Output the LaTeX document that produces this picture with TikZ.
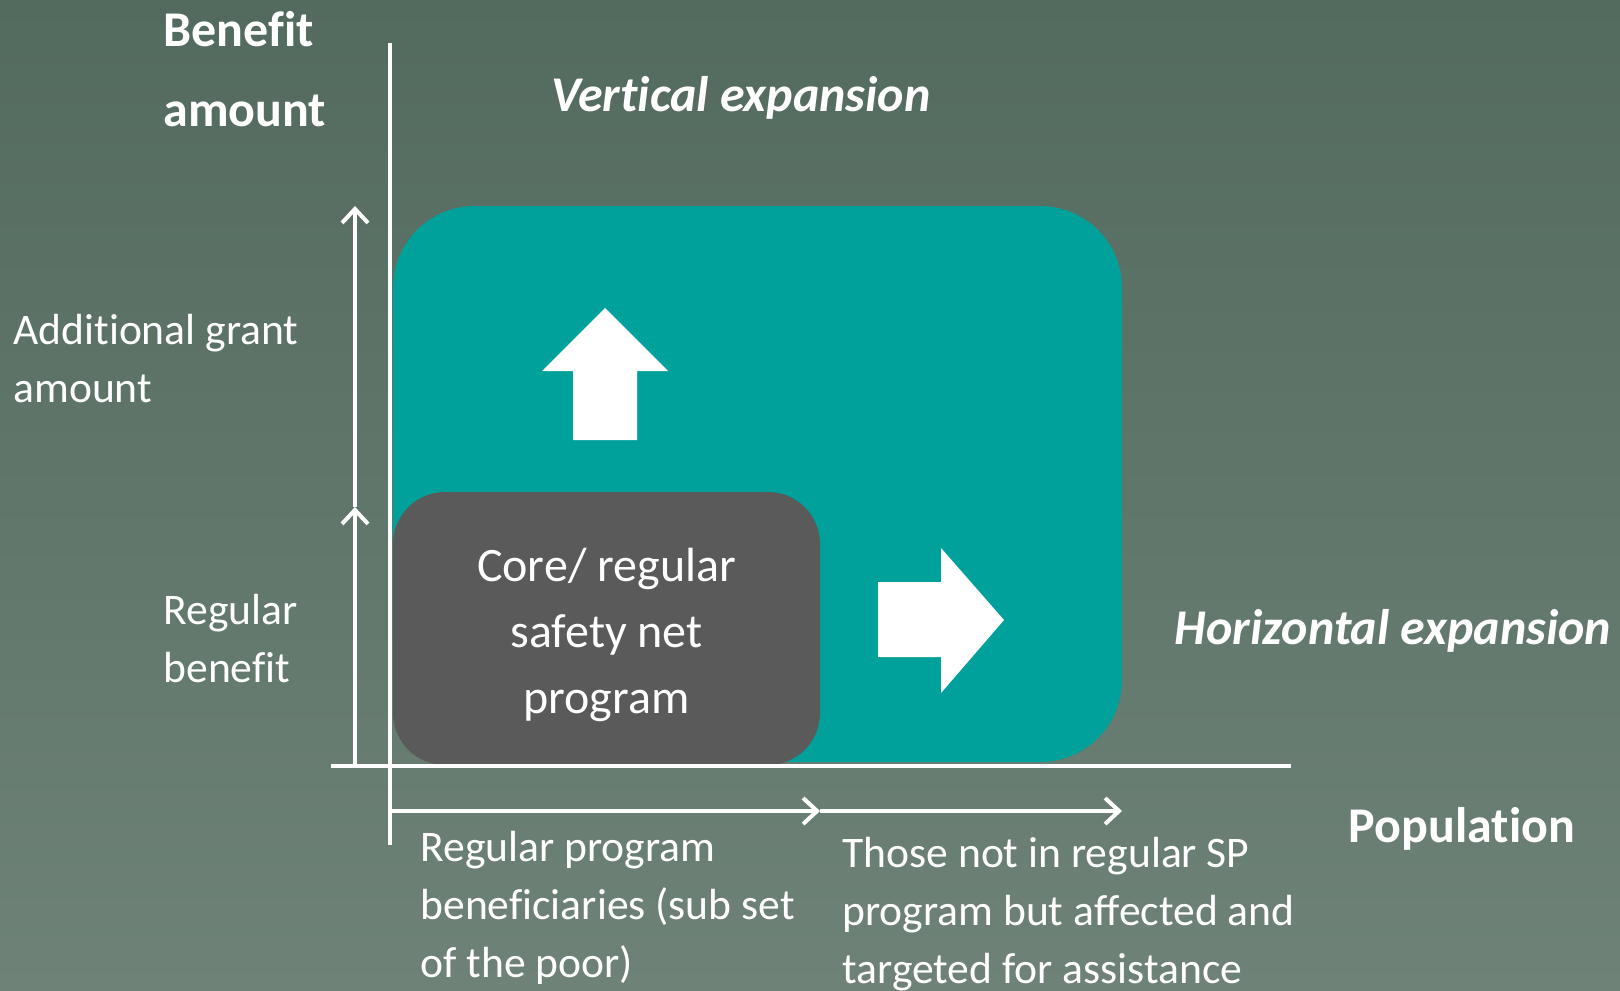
\documentclass[tikz,border=0pt]{standalone}
\usepackage{fontspec}
\setmainfont{Carlito}[Ligatures=NoCommon]
\usetikzlibrary{arrows.meta}

\definecolor{bgtop}{HTML}{536A5E}
\definecolor{bgbot}{HTML}{6E8277}
\definecolor{tealbox}{HTML}{00A19B}
\definecolor{corebox}{HTML}{5A5A5A}

\tikzset{
  axisline/.style={white, line width=2pt},
  sizearrow/.style={white, line width=2.2pt, -{Straight Barb[length=7pt,width=13pt,line width=2pt]}},
  axislabel/.style={text=white, inner sep=0pt, align=left, font=\fontsize{25}{40}\selectfont\bfseries},
  sidelabel/.style={text=white, inner sep=0pt, align=left, font=\fontsize{21.8}{29}\selectfont},
  expandlabel/.style={text=white, inner sep=0pt, font=\fontsize{25}{30}\selectfont\bfseries\itshape},
}

\begin{document}
\begin{tikzpicture}[x=0.5pt,y=0.5pt,yscale=-1,xscale=1]
\useasboundingbox (0,0) rectangle (1620,990);

% background
\shade[top color=bgtop, bottom color=bgbot] (0,0) rectangle (1620,990);

% Shape: expanded program
\node[fill=tealbox, rounded corners=41pt, minimum width=364.5pt, minimum height=278pt, inner sep=0pt] (expand) at (757.5,484) {};
% Shape: core program
\node[fill=corebox, rounded corners=26pt, minimum width=213.5pt, minimum height=136.5pt, inner sep=0pt] (core) at (606.5,628.5) {};
% Text Node
\node[text=white, align=center, inner sep=0pt, font=\fontsize{24}{33}\selectfont] (coretext) at (606.5,635) {Core/ regular\\safety net\\program};

% Shape: block arrows
\fill[white] (605,308) -- (668,371) -- (637,371) -- (637,440) -- (573,440) -- (573,371) -- (542,371) -- cycle;
\fill[white] (878,582) -- (941,582) -- (941,548) -- (1004,620) -- (941,693) -- (941,657) -- (878,657) -- cycle;

% axes
\coordinate (ytop) at (390,43);
\coordinate (ybot) at (390,845);
\coordinate (xleft) at (331,766);
\coordinate (xright) at (1291,766);
\draw[axisline] (ybot) -- (ytop);
\draw[axisline] (xleft) -- (xright);

% benefit arrows
\coordinate (g0) at (355,766);
\coordinate (g1) at (355,507);
\coordinate (g2) at (355,206);
\draw[sizearrow] (g0) -- (g1);
\draw[sizearrow] (g1) -- (g2);

% population arrows
\coordinate (p0) at (390,811);
\coordinate (p1) at (820,811);
\coordinate (p2) at (1122,811);
\draw[sizearrow] (p0) -- (p1);
\draw[sizearrow] (p1) -- (p2);

% Text Node
\node[axislabel, anchor=west] (benefit) at (163,69) {Benefit\\amount};
% Text Node
\node[expandlabel] (vertical) at (741,98) {Vertical expansion};
% Text Node
\node[expandlabel] (horizontal) at (1393,631) {Horizontal expansion};
% Text Node
\node[axislabel] (population) at (1462,829) {Population};
% Text Node
\node[sidelabel, anchor=west] (grant) at (13,359) {Additional grant\\amount};
% Text Node
\node[sidelabel, anchor=west] (regular) at (163,639) {Regular\\benefit};
% Text Node
\node[sidelabel, anchor=west] (members) at (420,908) {Regular program\\beneficiaries (sub set\\of the poor)};
% Text Node
\node[sidelabel, anchor=west] (others) at (842,914) {Those not in regular SP\\program but affected and\\targeted for assistance};

\end{tikzpicture}
\end{document}
